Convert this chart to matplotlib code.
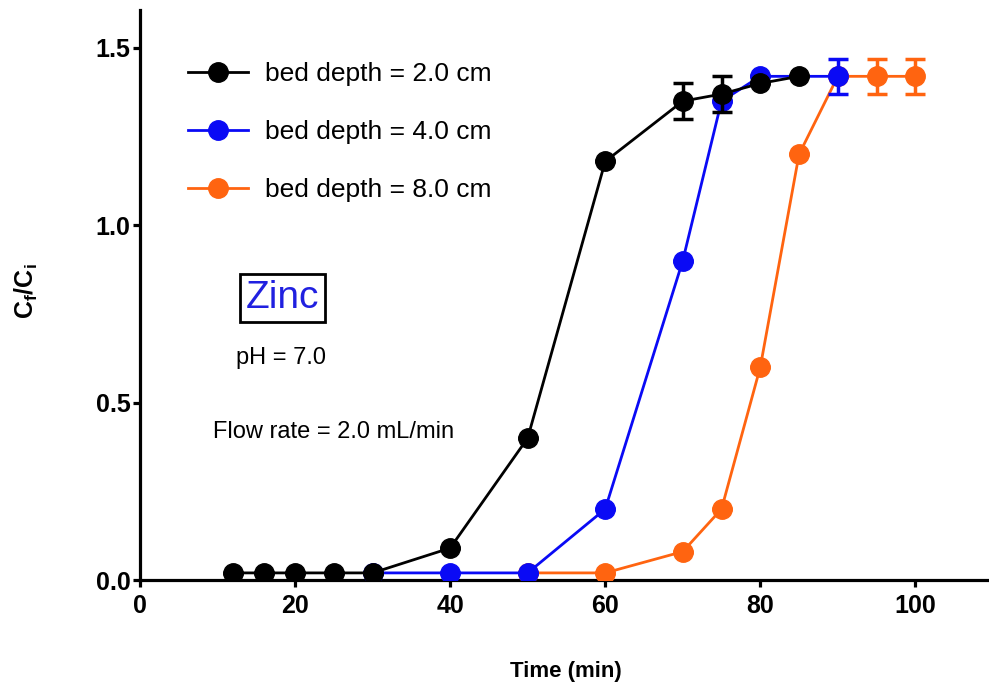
import matplotlib
matplotlib.use("Agg")
import matplotlib.pyplot as plt
from matplotlib.lines import Line2D

plt.rcParams['font.family'] = ['Liberation Sans', 'DejaVu Sans']
plt.rcParams['mathtext.fontset'] = 'custom'
plt.rcParams['mathtext.rm'] = 'Liberation Sans'
plt.rcParams['mathtext.bf'] = 'Liberation Sans:bold'
plt.rcParams['mathtext.it'] = 'Liberation Sans:italic'

# Data
x_black = [12, 16, 20, 25, 30, 40, 50, 60, 70, 75, 80, 85]
y_black = [0.02, 0.02, 0.02, 0.02, 0.02, 0.09, 0.40, 1.18, 1.35, 1.37, 1.40, 1.42]
e_black = [0, 0, 0, 0, 0, 0, 0, 0, 0.05, 0.05, 0, 0]

x_blue = [30, 40, 50, 60, 70, 75, 80, 90]
y_blue = [0.02, 0.02, 0.02, 0.20, 0.90, 1.35, 1.42, 1.42]
e_blue = [0, 0, 0, 0, 0, 0, 0, 0.05]

x_orange = [50, 60, 70, 75, 80, 85, 90, 95, 100]
y_orange = [0.02, 0.02, 0.08, 0.20, 0.60, 1.20, 1.42, 1.42, 1.42]
e_orange = [0, 0, 0, 0, 0, 0, 0, 0.05, 0.05]

labels = ["bed depth = 2.0 cm", "bed depth = 4.0 cm", "bed depth = 8.0 cm"]
colors = ["#000000", "#0A0AF5", "#FF6410"]

x_ticks = [0, 20, 40, 60, 80, 100]
y_ticks = [0.0, 0.5, 1.0, 1.5]
y_ticklabels = ["0.0", "0.5", "1.0", "1.5"]

fig = plt.figure(figsize=(9.89, 6.88), dpi=100)
ax = fig.add_axes([140/989, 108/688, (989-140)/989, 570/688])

series = [(x_black, y_black, e_black), (x_blue, y_blue, e_blue), (x_orange, y_orange, e_orange)]
for i in [2, 1, 0]:
    xs, ys, es = series[i]
    ax.errorbar(xs, ys, yerr=es, color=colors[i], lw=2.0, marker='o', ms=14,
                capsize=7, capthick=2.5, elinewidth=2.5, zorder=3 + (2 - i))

ax.set_xlim(0, 109.5)
ax.set_ylim(0, 1.607)
ax.set_xticks(x_ticks)
ax.set_yticks(y_ticks)
ax.set_yticklabels(y_ticklabels)
for s in ['top', 'right']:
    ax.spines[s].set_visible(False)
for s in ['left', 'bottom']:
    ax.spines[s].set_linewidth(2.3)
ax.tick_params(width=2.3, length=5, labelsize=18)
ax.tick_params(axis='x', pad=5)
ax.tick_params(axis='y', pad=2)
for lab in ax.get_xticklabels() + ax.get_yticklabels():
    lab.set_fontweight('bold')

ax.set_xlabel("Time (min)", fontsize=16, fontweight='bold', va='center', ha='center')
ax.xaxis.set_label_coords(0.502, -0.161)
ax.set_ylabel(r"$\mathbf{C_f/C_i}$", fontsize=18, va='center', ha='center')
ax.yaxis.set_label_coords(-0.134, 0.507)

handles = [Line2D([], [], color=c, lw=2.0, marker='o', ms=14) for c in colors]
ax.legend(handles=handles, labels=labels, loc='upper left', bbox_to_anchor=(0.0565, 0.909),
          borderaxespad=0, borderpad=0, frameon=False, fontsize=19,
          handlelength=2.27, labelspacing=1.3, handletextpad=0.64)

ax.text(0.168, 0.495, "Zinc", transform=ax.transAxes, fontsize=28, color='#2020E0',
        ha='center', va='center',
        bbox=dict(boxstyle='square,pad=0.15', fc='white', ec='black', lw=2))
ax.text(0.166, 0.389, "pH = 7.0", transform=ax.transAxes, fontsize=17, ha='center', va='center')
ax.text(0.2285, 0.26, "Flow rate = 2.0 mL/min", transform=ax.transAxes, fontsize=17,
        ha='center', va='center')

fig.savefig("out.png", dpi=100)
